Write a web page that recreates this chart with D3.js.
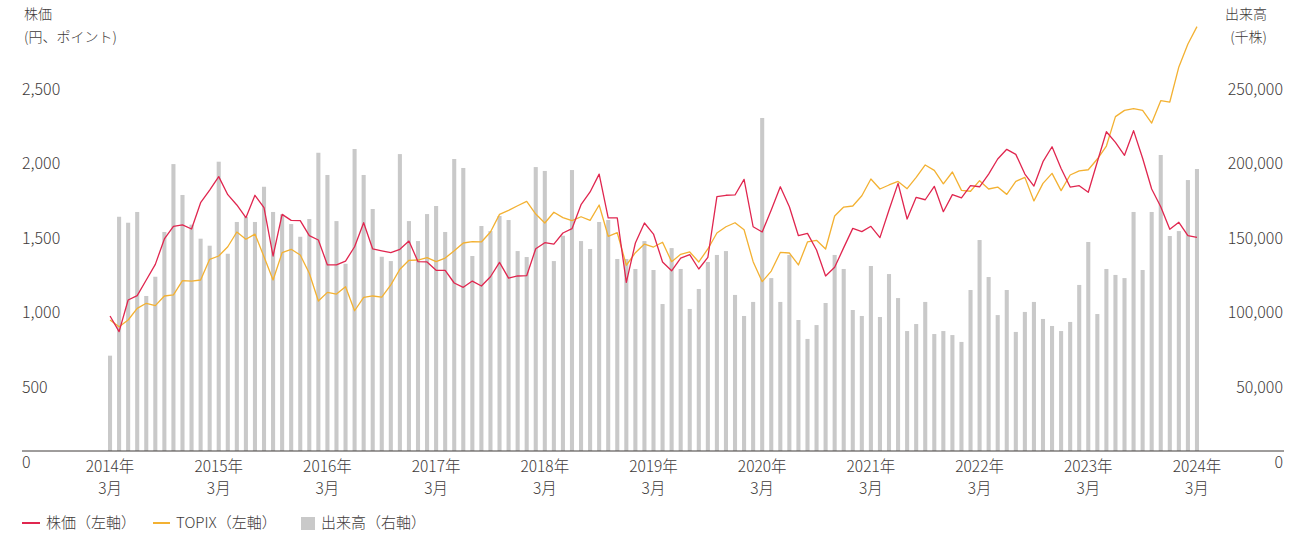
<!DOCTYPE html>
<html>
<head>
<meta charset="utf-8">
<script src="https://cdn.jsdelivr.net/npm/d3@7"></script>
<style>
  body { margin: 0; background: #fff; }
  svg text { font-family: "Noto Sans CJK JP", "Noto Sans", sans-serif; font-weight: 300; fill: #3e3a39; }
</style>
</head>
<body>
<svg id="chart" width="1304" height="535"></svg>
<script>
// Monthly categories, March 2014 – March 2024
const months = [];
for (let k = 0; k < 121; k++) {
  const yr = 2014 + Math.floor((2 + k) / 12);
  const mo = (2 + k) % 12 + 1;
  months.push(yr + "-" + String(mo).padStart(2, "0"));
}

// 出来高 (千株), right axis
const volume = [
  63900, 157000, 153000, 160200, 103900, 116800, 146800, 192300, 171600, 151700,
  142300, 137600, 193900, 132200, 153500, 157000, 153500, 177100, 160200, 158600,
  152100, 143600, 155500, 199900, 185000, 154100, 125500, 202400, 185000, 162200,
  130200, 127300, 199000, 154100, 140700, 158800, 164200, 146800, 195700, 189700,
  130700, 150800, 147400, 157500, 154800, 134000, 130000, 190300, 187700, 127300,
  144300, 188300, 140700, 135400, 153500, 154800, 128700, 128700, 122000, 140700,
  121300, 98500, 136000, 122000, 95200, 108600, 126700, 131400, 134000, 104600,
  90500, 99900, 223200, 115900, 99900, 131400, 87800, 75100, 84400, 99200,
  131400, 122000, 94500, 90500, 124000, 89800, 118600, 102500, 80400, 85100,
  99900, 78400, 80400, 77700, 73100, 107900, 141400, 116600, 91100, 107900,
  79800, 93200, 99900, 88500, 83800, 80400, 86500, 111300, 140100, 91800,
  122000, 118000, 115900, 160200, 121300, 160200, 198400, 144100, 147400, 181600,
  189000
];

// 株価 (円), left axis
const price = [
  905, 800, 1012, 1041, 1146, 1251, 1421, 1506, 1515, 1488,
  1664, 1749, 1839, 1718, 1649, 1564, 1714, 1631, 1307, 1586,
  1546, 1544, 1443, 1414, 1247, 1247, 1273, 1369, 1530, 1354,
  1342, 1329, 1352, 1407, 1269, 1267, 1211, 1211, 1126, 1097,
  1139, 1106, 1168, 1264, 1159, 1173, 1175, 1356, 1396, 1387,
  1461, 1490, 1651, 1736, 1856, 1562, 1562, 1130, 1394, 1528,
  1454, 1267, 1208, 1293, 1316, 1220, 1298, 1705, 1714, 1716,
  1821, 1503, 1468, 1615, 1771, 1637, 1443, 1459, 1347, 1173,
  1231, 1363, 1492, 1470, 1506, 1430, 1615, 1794, 1555, 1700,
  1684, 1774, 1604, 1718, 1696, 1778, 1771, 1856, 1957, 2022,
  1988, 1856, 1776, 1939, 2039, 1894, 1769, 1778, 1734, 1939,
  2140, 2069, 1982, 2147, 1962, 1756, 1637, 1486, 1533, 1443,
  1432
];

// TOPIX (ポイント), left axis
const topix = [
  878, 833, 878, 956, 990, 974, 1039, 1046, 1142, 1139,
  1146, 1285, 1307, 1369, 1468, 1419, 1454, 1302, 1146, 1329,
  1352, 1314, 1191, 1005, 1063, 1052, 1101, 940, 1030, 1039,
  1032, 1113, 1218, 1278, 1280, 1296, 1269, 1293, 1342, 1394,
  1403, 1401, 1468, 1586, 1613, 1644, 1673, 1588, 1528, 1600,
  1564, 1544, 1570, 1546, 1649, 1439, 1463, 1245, 1329, 1387,
  1367, 1399, 1269, 1318, 1334, 1267, 1354, 1461, 1503, 1530,
  1483, 1269, 1135, 1206, 1331, 1327, 1247, 1401, 1412, 1354,
  1575, 1635, 1642, 1711, 1823, 1756, 1783, 1807, 1758, 1834,
  1917, 1881, 1791, 1870, 1747, 1741, 1812, 1756, 1769, 1720,
  1807, 1834, 1676, 1794, 1861, 1745, 1850, 1877, 1885, 1957,
  2044, 2241, 2283, 2294, 2283, 2198, 2348, 2339, 2574, 2728,
  2844
];

// Axis ticks
const leftTicks = [0, 500, 1000, 1500, 2000, 2500];
const rightTicks = [0, 50000, 100000, 150000, 200000, 250000];
const yearTicks = months.filter(m => m.endsWith("-03"));

const colors = { price: "#e0264f", topix: "#f3b132", volume: "#c9c9c9", axis: "#3e3a39" };

const svg = d3.select("#chart");

const x = d3.scaleBand().domain(months).range([105.5, 1201.5])
  .paddingInner(0.55).paddingOuter(0.275);
const yL = d3.scaleLinear().domain([0, 2500]).range([451, 78]);
const yR = d3.scaleLinear().domain([0, 250000]).range([451, 78]);
const cx = m => x(m) + x.bandwidth() / 2;

// Volume bars
svg.append("g").selectAll("rect")
  .data(months.map((m, i) => ({ m, v: volume[i] })))
  .join("rect")
  .attr("x", d => x(d.m))
  .attr("width", x.bandwidth())
  .attr("y", d => yR(d.v))
  .attr("height", d => yR(0) - yR(d.v))
  .attr("fill", colors.volume);

// Baseline
svg.append("line")
  .attr("x1", 22).attr("x2", 1284)
  .attr("y1", yL(0)).attr("y2", yL(0))
  .attr("stroke", colors.axis).attr("stroke-width", 1);

// Lines
const line = d3.line().x(d => cx(d.m)).y(d => yL(d.v));
svg.append("path")
  .datum(months.map((m, i) => ({ m, v: topix[i] })))
  .attr("d", line).attr("fill", "none")
  .attr("stroke", colors.topix).attr("stroke-width", 1.3)
  .attr("stroke-linejoin", "round");
svg.append("path")
  .datum(months.map((m, i) => ({ m, v: price[i] })))
  .attr("d", line).attr("fill", "none")
  .attr("stroke", colors.price).attr("stroke-width", 1.3)
  .attr("stroke-linejoin", "round");

// Left axis labels (left aligned, sitting just below each value level)
const gl = svg.append("g").attr("transform", "translate(22,11)")
  .call(d3.axisRight(yL).tickValues(leftTicks).tickSize(0).tickPadding(0)
    .tickFormat(d3.format(",")));
gl.select(".domain").remove();
gl.selectAll("text").attr("font-size", 16).style("font-family", null)
  .attr("fill", colors.axis);

// Right axis labels
const gr = svg.append("g").attr("transform", "translate(1283,11)")
  .call(d3.axisLeft(yR).tickValues(rightTicks).tickSize(0).tickPadding(0)
    .tickFormat(d3.format(",")));
gr.select(".domain").remove();
gr.selectAll("text").attr("font-size", 16).style("font-family", null)
  .attr("fill", colors.axis);

// Bottom axis: year label with month label underneath
const gx = svg.append("g").attr("transform", "translate(0,451)")
  .call(d3.axisBottom(x).tickValues(yearTicks).tickSize(0).tickPadding(0)
    .tickFormat(d => d.slice(0, 4) + "年"));
gx.select(".domain").remove();
gx.selectAll(".tick text")
  .attr("y", 20.5).attr("dy", null)
  .attr("font-size", 15.5).style("font-family", null).attr("fill", colors.axis);
gx.selectAll(".tick").append("text")
  .attr("y", 42.5).attr("text-anchor", "middle")
  .attr("font-size", 15.5).attr("fill", colors.axis)
  .text(d => +d.slice(5) + "月");

// Axis titles
const titles = svg.append("g").attr("font-size", 14);
titles.append("text").attr("x", 24).attr("y", 19).text("株価");
titles.append("text").attr("x", 24).attr("y", 42).text("(円、ポイント)");
titles.append("text").attr("x", 1267).attr("y", 19).attr("text-anchor", "end").text("出来高");
titles.append("text").attr("x", 1267).attr("y", 42).attr("text-anchor", "end").text("(千株)");

// Legend
const lg = svg.append("g").attr("font-size", 15);
const ly = 523;
lg.append("line").attr("x1", 22).attr("x2", 40).attr("y1", ly).attr("y2", ly)
  .attr("stroke", colors.price).attr("stroke-width", 2);
lg.append("text").attr("x", 46).attr("y", ly + 5).text("株価（左軸）");
lg.append("line").attr("x1", 153).attr("x2", 170).attr("y1", ly).attr("y2", ly)
  .attr("stroke", colors.topix).attr("stroke-width", 2);
lg.append("text").attr("x", 176).attr("y", ly + 5).text("TOPIX（左軸）");
lg.append("rect").attr("x", 301).attr("y", 517).attr("width", 14).attr("height", 13)
  .attr("fill", colors.volume);
lg.append("text").attr("x", 321).attr("y", ly + 5).text("出来高（右軸）");
</script>
</body>
</html>
